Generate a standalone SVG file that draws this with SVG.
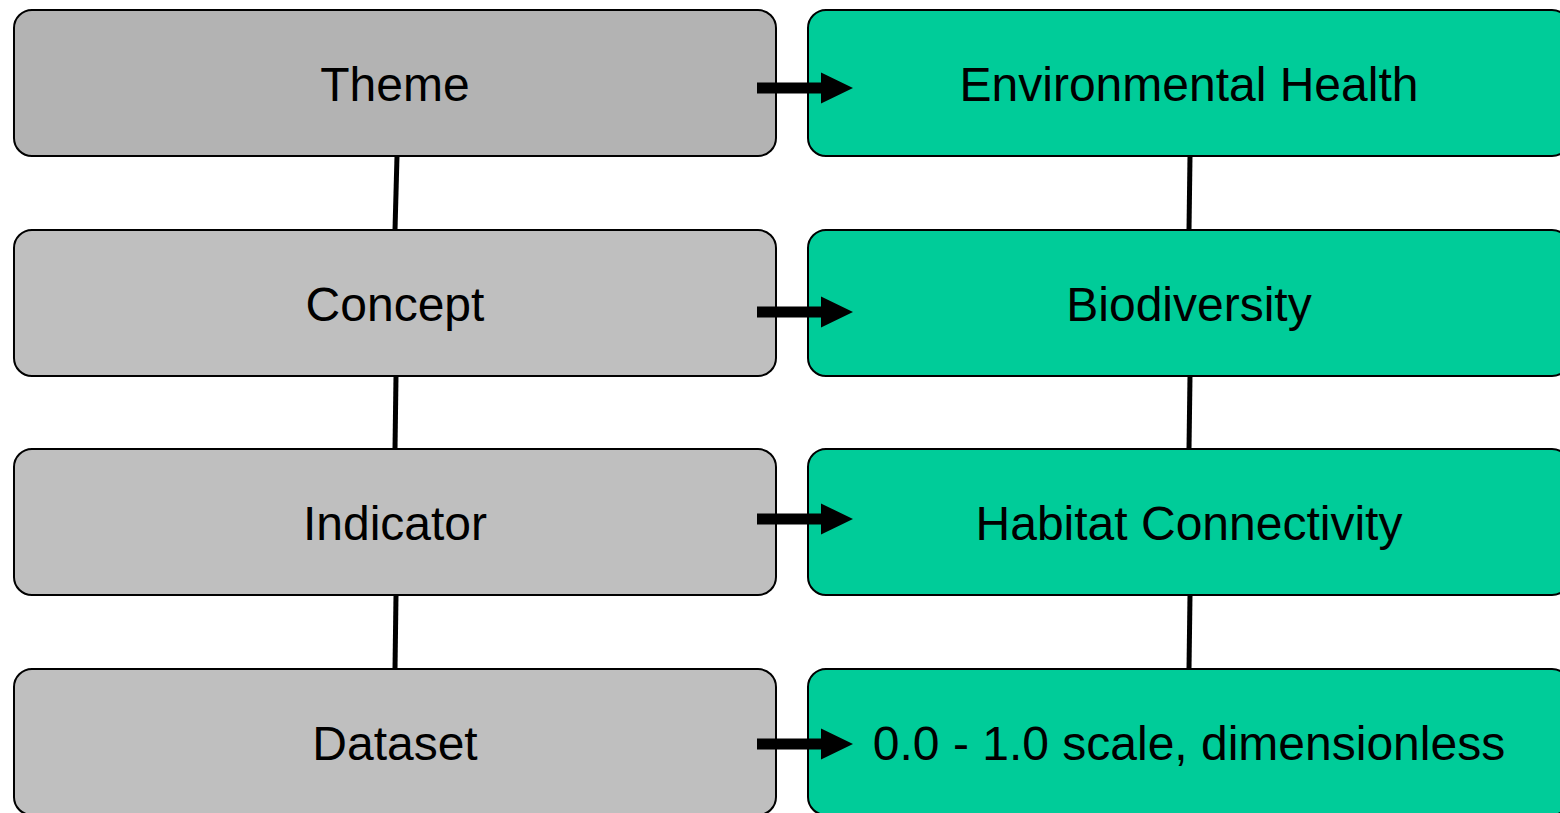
<svg xmlns="http://www.w3.org/2000/svg" width="1560" height="813" viewBox="0 0 1560 813">
<style>
.box{stroke:#000;stroke-width:2}
.grey{fill:#bfbfbf}
.dark{fill:#b3b3b3}
.green{fill:#00cc99}
.t{font-family:"Liberation Sans",Arial,sans-serif;font-size:48px;fill:#000;text-anchor:middle}
.link{stroke:#000;stroke-width:5;fill:none}
.shaft{stroke:#000;stroke-width:11;fill:none}
</style>
<defs>
<polygon id="head" points="0,-15.5 32,0 0,15.5" fill="#000"/>
</defs>
<g id="connectors">
<line class="link" x1="397" y1="156" x2="395" y2="230"/>
<line class="link" x1="396" y1="376" x2="395" y2="449"/>
<line class="link" x1="396" y1="595" x2="395" y2="669"/>
<line class="link" x1="1190" y1="156" x2="1189" y2="230"/>
<line class="link" x1="1190" y1="376" x2="1189" y2="449"/>
<line class="link" x1="1190" y1="595" x2="1189" y2="669"/>
</g>
<g id="theme"><rect class="box dark" x="14" y="10" width="762" height="146" rx="18"/><text class="t" x="395" y="101">Theme</text></g>
<g id="concept"><rect class="box grey" x="14" y="230" width="762" height="146" rx="18"/><text class="t" x="395" y="321">Concept</text></g>
<g id="indicator"><rect class="box grey" x="14" y="449" width="762" height="146" rx="18"/><text class="t" x="395" y="540">Indicator</text></g>
<g id="dataset"><rect class="box grey" x="14" y="669" width="762" height="146" rx="18"/><text class="t" x="395" y="760">Dataset</text></g>
<g id="env-health"><rect class="box green" x="808" y="10" width="762" height="146" rx="18"/><text class="t" x="1189" y="101">Environmental Health</text></g>
<g id="biodiversity"><rect class="box green" x="808" y="230" width="762" height="146" rx="18"/><text class="t" x="1189" y="321">Biodiversity</text></g>
<g id="habitat"><rect class="box green" x="808" y="449" width="762" height="146" rx="18"/><text class="t" x="1189" y="540">Habitat Connectivity</text></g>
<g id="scale"><rect class="box green" x="808" y="669" width="762" height="146" rx="18"/><text class="t" x="1189" y="760">0.0 - 1.0 scale, dimensionless</text></g>
<g id="arrows">
<line class="shaft" x1="757" y1="88" x2="822" y2="88"/><use href="#head" x="821" y="88"/>
<line class="shaft" x1="757" y1="312" x2="822" y2="312"/><use href="#head" x="821" y="312"/>
<line class="shaft" x1="757" y1="519" x2="822" y2="519"/><use href="#head" x="821" y="519"/>
<line class="shaft" x1="757" y1="744" x2="822" y2="744"/><use href="#head" x="821" y="744"/>
</g>
</svg>
